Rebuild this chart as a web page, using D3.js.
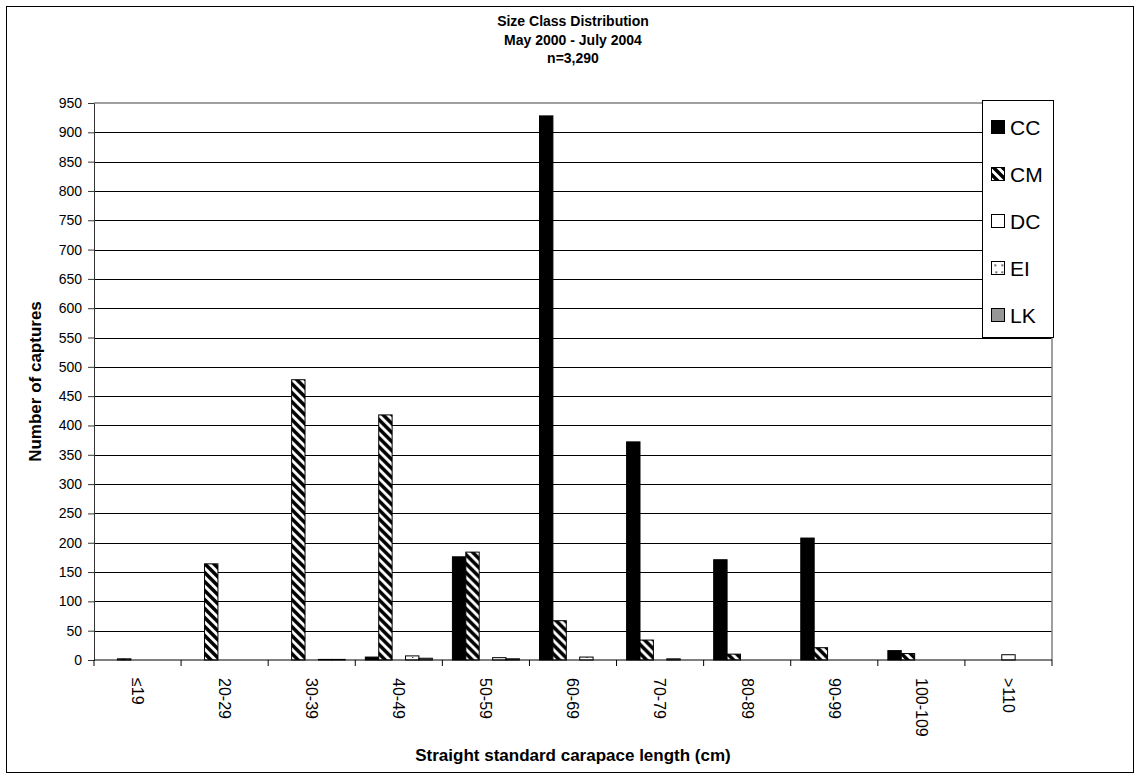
<!DOCTYPE html>
<html>
<head>
<meta charset="utf-8">
<script src="https://cdn.jsdelivr.net/npm/d3@7"></script>
<style>
  body { margin: 0; background: #fff; }
  text { font-family: "Liberation Sans", Arial, sans-serif; fill: #000; }
</style>
</head>
<body>
<svg id="chart" width="1141" height="780"></svg>
<script>
// Size classes (straight standard carapace length, cm)
const sizeClasses = ["≤19", "20-29", "30-39", "40-49", "50-59", "60-69", "70-79", "80-89", "90-99", "100-109", ">110"];
const speciesKeys = ["CC", "CM", "DC", "EI", "LK"];

// Captures per size class, one array per species
const ccCounts = [0, 0, 0, 5, 176, 928, 372, 171, 208, 16, 0];
const cmCounts = [2, 164, 478, 418, 184, 67, 34, 10, 21, 11, 0];
const dcCounts = [0, 0, 0, 0, 0, 0, 0, 0, 0, 0, 9];
const eiCounts = [0, 0, 1, 7, 4, 5, 2, 0, 0, 0, 0];
const lkCounts = [0, 0, 1, 3, 2, 0, 0, 0, 0, 0, 0];

const yTickValues = d3.range(0, 951, 50);
const titleLines = ["Size Class Distribution", "May 2000 - July 2004", "n=3,290"];
const xTitle = "Straight standard carapace length (cm)";
const yTitle = "Number of captures";

const countsBySpecies = { CC: ccCounts, CM: cmCounts, DC: dcCounts, EI: eiCounts, LK: lkCounts };
const rows = sizeClasses.map((c, i) => ({
  cls: c,
  values: speciesKeys.map(k => ({ key: k, value: countsBySpecies[k][i] }))
}));

const svg = d3.select("#chart");
const plot = { left: 94, right: 1052, top: 103, bottom: 660 };

// Outer chart frame
svg.append("rect")
  .attr("x", 6.5).attr("y", 6.5).attr("width", 1127).attr("height", 766)
  .attr("fill", "#fff").attr("stroke", "#000").attr("stroke-width", 1);

// Fill patterns
const defs = svg.append("defs");
const hatch = defs.append("pattern").attr("id", "fill-CM")
  .attr("patternUnits", "userSpaceOnUse").attr("width", 9).attr("height", 9);
hatch.append("rect").attr("width", 9).attr("height", 9).attr("fill", "#fff");
hatch.append("path").attr("d", "M-3,-3 L12,12 M-3,6 L3,12 M6,-3 L12,3")
  .attr("stroke", "#000").attr("stroke-width", 3.5);

const dots = defs.append("pattern").attr("id", "fill-EI")
  .attr("patternUnits", "userSpaceOnUse").attr("width", 8).attr("height", 8);
dots.append("rect").attr("width", 8).attr("height", 8).attr("fill", "#fff");
dots.append("rect").attr("x", 1).attr("y", 1).attr("width", 1).attr("height", 1).attr("fill", "#000");
dots.append("rect").attr("x", 5).attr("y", 5).attr("width", 1).attr("height", 1).attr("fill", "#000");

const legendDots = defs.append("pattern").attr("id", "fill-EI-key")
  .attr("patternUnits", "objectBoundingBox").attr("width", 1).attr("height", 1);
legendDots.append("rect").attr("width", 14).attr("height", 14).attr("fill", "#fff");
[[3, 3], [10, 3], [4, 10], [10, 10]].forEach(([dx, dy]) =>
  legendDots.append("rect").attr("x", dx).attr("y", dy).attr("width", 1.5).attr("height", 1.5).attr("fill", "#000"));

const fills = { CC: "#000", CM: "url(#fill-CM)", DC: "#fff", EI: "url(#fill-EI)", LK: "#969696" };
const keyFills = Object.assign({}, fills, { EI: "url(#fill-EI-key)" });

// Scales
const x = d3.scaleBand().domain(sizeClasses).range([plot.left, plot.right]).paddingInner(0).paddingOuter(0);
const xInner = d3.scaleBand().domain(speciesKeys).range([0, x.bandwidth()]).paddingInner(0).paddingOuter(0.75);
const y = d3.scaleLinear().domain([0, 950]).range([plot.bottom, plot.top]);

// Horizontal gridlines
svg.append("g")
  .attr("transform", `translate(${plot.left},0)`)
  .call(d3.axisLeft(y).tickValues(yTickValues.filter(v => v > 0 && v < 950)).tickSize(-(plot.right - plot.left)).tickFormat(""))
  .call(g => g.select(".domain").remove())
  .call(g => g.selectAll("line").attr("stroke", "#000").attr("shape-rendering", "crispEdges"));

// Plot border (top and right) in grey
svg.append("path")
  .attr("d", `M${plot.left},${y(950)} H${plot.right} V${plot.bottom}`)
  .attr("fill", "none").attr("stroke", "#808080").attr("stroke-width", 1.5);

// Bars
const groups = svg.append("g").selectAll("g").data(rows).join("g")
  .attr("transform", d => `translate(${x(d.cls)},0)`);
groups.selectAll("rect").data(d => d.values.filter(v => v.value > 0)).join("rect")
  .attr("x", v => xInner(v.key))
  .attr("width", xInner.bandwidth())
  .attr("y", v => y(v.value))
  .attr("height", v => y(0) - y(v.value))
  .attr("fill", v => fills[v.key])
  .attr("stroke", "#000").attr("stroke-width", 1);

// Y axis
const yAxis = svg.append("g")
  .attr("transform", `translate(${plot.left},0)`)
  .call(d3.axisLeft(y).tickValues(yTickValues).tickSize(6).tickPadding(6).tickSizeOuter(0));
yAxis.select(".domain").attr("stroke", "#333");
yAxis.selectAll("line").attr("stroke", "#333");
yAxis.selectAll("text").attr("font-size", 14).attr("font-family", "Liberation Sans, Arial, sans-serif");

// X axis: baseline plus tick marks at class boundaries
const xAxis = svg.append("g").attr("transform", `translate(0,${plot.bottom})`);
xAxis.append("line").attr("x1", plot.left).attr("x2", plot.right).attr("stroke", "#000");
const boundaries = sizeClasses.map(c => x(c)).concat([x(sizeClasses[sizeClasses.length - 1]) + x.bandwidth()]);
xAxis.selectAll(".bnd").data(boundaries).join("line").attr("class", "bnd")
  .attr("x1", d => d).attr("x2", d => d).attr("y1", 0).attr("y2", 6).attr("stroke", "#000");
xAxis.selectAll(".lbl").data(sizeClasses).join("text").attr("class", "lbl")
  .attr("transform", d => `translate(${x(d) + x.bandwidth() / 2},18) rotate(90)`)
  .attr("dy", "0.35em")
  .attr("font-size", 16)
  .text(d => d);

// Titles
const cx = (plot.left + plot.right) / 2;
svg.append("g").selectAll("text").data(titleLines).join("text")
  .attr("x", cx).attr("y", (d, i) => 26 + i * 18.5)
  .attr("text-anchor", "middle").attr("font-size", 14).attr("font-weight", "bold")
  .text(d => d);
svg.append("text").attr("x", cx).attr("y", 761)
  .attr("text-anchor", "middle").attr("font-size", 17).attr("font-weight", "bold").text(xTitle);
svg.append("text").attr("transform", `translate(41,${(plot.top + plot.bottom) / 2}) rotate(-90)`)
  .attr("text-anchor", "middle").attr("font-size", 17).attr("font-weight", "bold").text(yTitle);

// Legend
const legend = svg.append("g");
legend.append("rect").attr("x", 982.5).attr("y", 100.5).attr("width", 71).attr("height", 237)
  .attr("fill", "#fff").attr("stroke", "#000");
const items = legend.selectAll(".item").data(speciesKeys).join("g").attr("class", "item")
  .attr("transform", (d, i) => `translate(991,${127 + i * 47})`);
items.append("rect").attr("x", 0.5).attr("y", -6.5).attr("width", 13).attr("height", 13)
  .attr("fill", d => keyFills[d]).attr("stroke", "#000");
items.append("text").attr("x", 19).attr("dy", "0.36em").attr("font-size", 21).text(d => d);
</script>
</body>
</html>
